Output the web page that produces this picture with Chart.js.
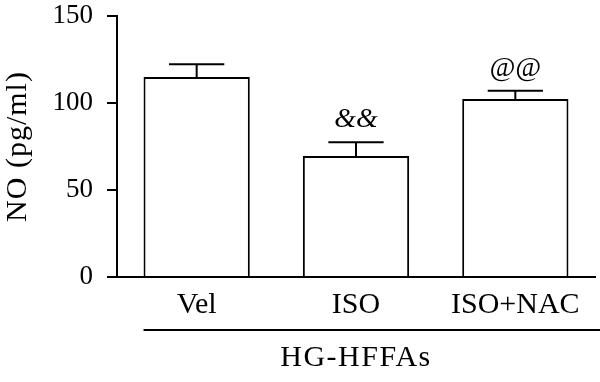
<!DOCTYPE html>
<html>
<head>
<meta charset="utf-8">
<script src="https://cdn.jsdelivr.net/npm/chart.js@4.4.1/dist/chart.umd.min.js"></script>
<style>
html,body{margin:0;padding:0;background:#fff;}
#wrap{width:600px;height:382px;position:relative;}
</style>
</head>
<body>
<div id="wrap"><canvas id="c" width="600" height="382"></canvas></div>
<script>
const categories = ["Vel", "ISO", "ISO+NAC"];
const values = [115, 69.5, 102.3];
const errors = [7.2, 8, 4.7];
const marks = ["", "&&", "@@"];
const yTicks = [0, 50, 100, 150];
const groupLabel = "HG-HFFAs";
const yTitle = "NO (pg/ml)";

const FONT = "'Liberation Serif', 'Times New Roman', serif";

const spacing = {
  id: 'spacing',
  afterLayout(chart) {
    const y = chart.scales.y;
    if (y && !y._patched) {
      y._patched = true;
      const origTitle = y.drawTitle;
      y.drawTitle = function (area) {
        const c = this.ctx; c.save(); c.letterSpacing = '1px';
        origTitle.call(this, area); c.restore();
      };
    }
  }
};

const extras = {
  id: 'extras',
  afterDatasetsDraw(chart) {
    const ctx = chart.ctx;
    const meta = chart.getDatasetMeta(0);
    const y = chart.scales.y;
    ctx.save();
    ctx.strokeStyle = '#000';
    ctx.lineWidth = 2;
    meta.data.forEach((bar, i) => {
      const top = y.getPixelForValue(values[i] + errors[i]);
      const half = bar.width * 0.26;
      ctx.beginPath();
      ctx.moveTo(bar.x, bar.y);
      ctx.lineTo(bar.x, top);
      ctx.moveTo(bar.x - half, top);
      ctx.lineTo(bar.x + half, top);
      ctx.stroke();
      if (marks[i]) {
        ctx.fillStyle = '#000';
        ctx.font = "italic 28px " + FONT;
        ctx.textAlign = 'center';
        ctx.textBaseline = 'alphabetic';
        ctx.fillText(marks[i], bar.x, top - 15);
      }
    });
    // group bracket
    const first = meta.data[0];
    const lx = first.x - first.width / 2;
    ctx.beginPath();
    ctx.moveTo(lx, 330);
    ctx.lineTo(600, 330);
    ctx.stroke();
    ctx.fillStyle = '#000';
    ctx.letterSpacing = '1.5px';
    ctx.font = "30px " + FONT;
    ctx.textAlign = 'center';
    ctx.textBaseline = 'middle';
    ctx.fillText(groupLabel, chart.scales.x.getPixelForValue(1), 358);
    ctx.restore();
  }
};

new Chart(document.getElementById('c'), {
  type: 'bar',
  data: {
    labels: categories,
    datasets: [{
      data: values,
      backgroundColor: '#fff',
      borderColor: '#000',
      borderWidth: 2,
      borderSkipped: 'bottom',
      categoryPercentage: 1,
      barPercentage: 0.667
    }]
  },
  options: {
    responsive: false,
    animation: false,
    devicePixelRatio: 1,
    layout: { padding: { top: 16, right: 5, left: 0, bottom: 0 } },
    plugins: { legend: { display: false }, tooltip: { enabled: false } },
    scales: {
      x: {
        offset: true,
        grid: { display: false, drawTicks: false },
        border: { display: true, color: '#000', width: 2 },
        ticks: { color: '#000', font: { family: FONT, size: 30 }, padding: 10, maxRotation: 0, autoSkip: false },
        afterFit: s => { s.height = 105; s.paddingLeft = 0; s.paddingRight = 0; s.paddingTop = 0; s.paddingBottom = 0; }
      },
      y: {
        min: 0, max: 150,
        afterBuildTicks: s => { s.ticks = yTicks.map(v => ({ value: v })); },
        grid: { drawOnChartArea: false, drawTicks: true, tickLength: 10, color: '#000', lineWidth: 2 },
        border: { display: true, color: '#000', width: 2 },
        ticks: { color: '#000', font: { family: FONT, size: 27 }, padding: 14 },
        title: { display: true, text: yTitle, color: '#000', font: { family: FONT, size: 30 }, padding: 0 },
        afterFit: s => { s.width = 117; s.paddingTop = 0; s.paddingBottom = 0; s.paddingLeft = 0; s.paddingRight = 0; }
      }
    }
  },
  plugins: [spacing, extras]
});
</script>
</body>
</html>
